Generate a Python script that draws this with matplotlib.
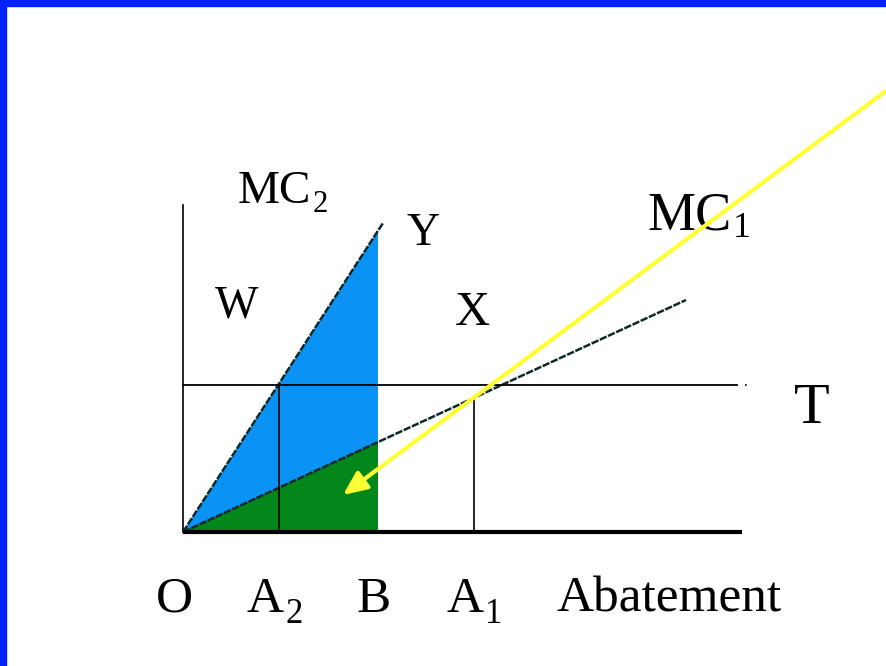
import matplotlib
matplotlib.use("Agg")
import matplotlib.pyplot as plt
from matplotlib.patches import Polygon, Rectangle

plt.rcParams["font.family"] = ["Liberation Serif", "DejaVu Serif"]

# abatement (q) vs marginal cost, origin at O
mc2_q = [0, 200]
mc2_cost = [0, 309]
mc1_q = [0, 503]
mc1_cost = [0, 232]
tax_level = 147
q_a2, q_b, q_a1 = 96, 195, 291
axis_q_end = 559
axis_cost_end = 327

# label, subscript, anchor (q, cost), fontsize, subscript size, drop in px
labels = [
    ("O", "", -27, -80, 37, 0, 0),
    ("A", "2", 64, -80, 37, 25, 11),
    ("B", "", 174, -80, 37, 0, 0),
    ("A", "1", 264, -80, 37, 25, 11),
    ("Abatement", "", 374, -80, 37, 0, 0),
    ("MC", "2", 55, 329, 34, 22, 9),
    ("Y", "", 224, 287, 33, 0, 0),
    ("W", "", 32, 215, 33, 0, 0),
    ("X", "", 272, 207, 35, 0, 0),
    ("MC", "1", 465, 302, 39, 26, 7),
    ("T", "", 611, 109, 42, 0, 0),
]

# yellow pointer: tail off the right edge, head in the green area
arrow_tail = (707, 444)
arrow_head = (160, 37)


def slope(q, c):
    return c[1] / q[1]


fig = plt.figure(figsize=(8.86, 6.66), dpi=100)
ax = fig.add_axes([0, 0, 1, 1])
ax.set_xlim(-183, 703)
ax.set_ylim(532 - 666, 532)
ax.axis("off")

# slide frame (left and top edges)
fig.patches.append(Rectangle((0, 0), 6 / 886, 1, transform=fig.transFigure,
                             color="#0022ff", zorder=10))
fig.patches.append(Rectangle((0, 1 - 6 / 666), 1, 6 / 666,
                             transform=fig.transFigure, color="#0022ff",
                             zorder=10))

s2 = slope(mc2_q, mc2_cost)
s1 = slope(mc1_q, mc1_cost)

ax.add_patch(Polygon([(0, 0), (q_b, s2 * q_b), (q_b, 0)],
                     closed=True, facecolor="#0a93f5", edgecolor="none"))
ax.add_patch(Polygon([(0, 0), (q_b, s1 * q_b), (q_b, 0)],
                     closed=True, facecolor="#03861a", edgecolor="none"))

line_col = "#0c2a2a"
ax.plot(mc2_q, mc2_cost, color=line_col, lw=1.8, ls=(0, (3, 0.6)))
ax.plot(mc1_q, mc1_cost, color=line_col, lw=1.8, ls=(0, (3, 0.6)))

# axes
ax.plot([0, 0], [0, axis_cost_end], color="black", lw=1.2)
ax.plot([0, axis_q_end], [0, 0], color="black", lw=3, solid_capstyle="butt")

# tax line T
ax.plot([0, axis_q_end - 5], [tax_level, tax_level], color="black", lw=1.3)
ax.plot([axis_q_end + 3, axis_q_end + 11], [tax_level, tax_level],
        color="black", lw=1.2, ls=(0, (1, 7)))

# drop lines at A2 and A1
ax.plot([q_a2, q_a2], [0, tax_level], color="black", lw=1.2)
ax.plot([q_a1, q_a1], [0, s1 * q_a1], color="black", lw=1.2)

renderer = fig.canvas.get_renderer()
for text, sub, q, c, size, sub_size, drop in labels:
    t = ax.text(q, c, text, fontsize=size, ha="left", va="baseline")
    if sub:
        right = t.get_window_extent(renderer).x1
        q_sub = ax.transData.inverted().transform((right, 0))[0]
        ax.text(q_sub + 1, c - drop, sub, fontsize=sub_size,
                ha="left", va="baseline")

ax.annotate("", xy=arrow_head, xytext=arrow_tail,
            arrowprops=dict(arrowstyle="-|>,head_length=0.9,head_width=0.4",
                            mutation_scale=16, color="#ffff33", lw=3,
                            shrinkA=0, shrinkB=0),
            annotation_clip=False)

fig.savefig("out.png", dpi=100, facecolor="white")
